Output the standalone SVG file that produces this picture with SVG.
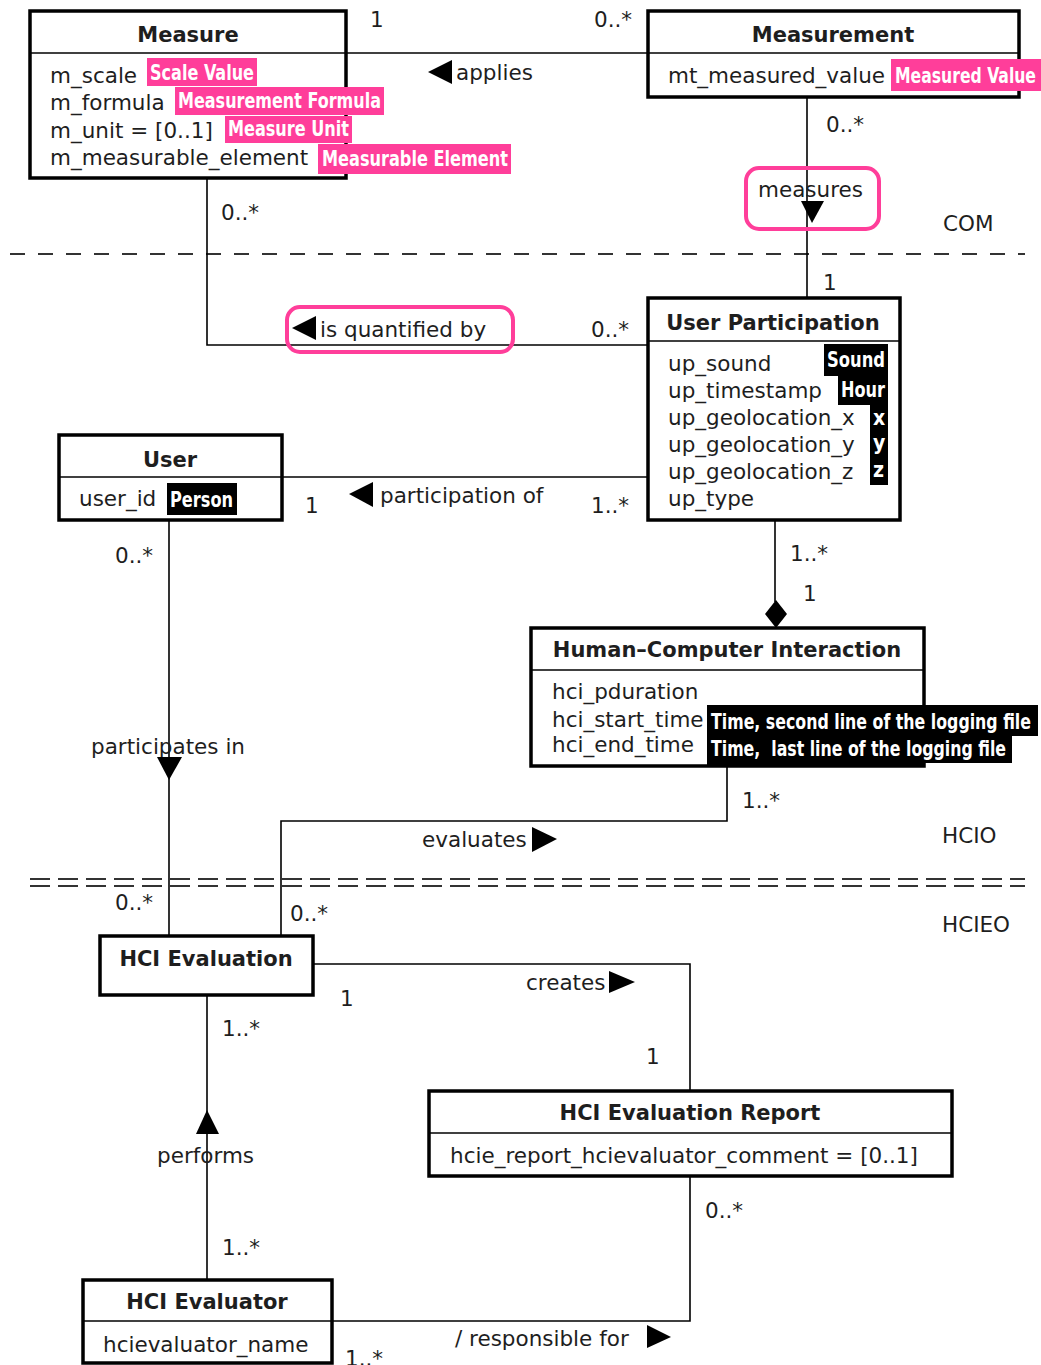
<svg xmlns="http://www.w3.org/2000/svg" width="1041" height="1365" viewBox="0 0 1041 1365">
<style>
.box{fill:#fff;stroke:#000;stroke-width:3.5}
.dv{stroke:#000;stroke-width:1.5}
.t{font-family:"DejaVu Sans",sans-serif;font-size:21.5px;fill:#1e1e1e}
.b{font-weight:bold;font-size:21px;text-anchor:middle}
.conn{fill:none;stroke:#000;stroke-width:1.6}
.tri{fill:#000}
.pk{fill:#ff3e9a}
.bk{fill:#000}
.lab{font-family:"Liberation Sans Narrow","DejaVu Sans Condensed","Roboto",sans-serif;font-weight:bold;font-size:21px;fill:#fff;white-space:pre}
.hl{fill:none;stroke:#ff3e9a;stroke-width:4}
.sep{fill:none;stroke:#333;stroke-width:1.8}
</style>
<rect width="1041" height="1365" fill="#fff"/>

<g id="separators">
<path class="sep" d="M10,254 H1025" stroke-dasharray="15 13"/>
<path class="sep" d="M30,879 H1025 M30,886 H1025" stroke-dasharray="20 8"/>
<text class="t" x="943" y="231">COM</text>
<text class="t" x="942" y="843">HCIO</text>
<text class="t" x="942" y="932">HCIEO</text>
</g>

<g id="connectors">
<path class="conn" d="M346,53 H648"/>
<path class="tri" d="M428,72 L452,60 L452,84 Z"/>
<text class="t" x="456" y="80">applies</text>
<text class="t" x="370" y="27">1</text>
<text class="t" x="594" y="27">0..*</text>

<path class="conn" d="M807,97 V298"/>
<text class="t" x="826" y="132">0..*</text>
<text class="t" x="823" y="290">1</text>
<rect class="hl" x="746" y="168" width="133" height="61" rx="13"/>
<text class="t" x="758" y="197">measures</text>
<path class="tri" d="M801,201 L824,201 L812,223 Z"/>

<path class="conn" d="M207,178 V345 H648"/>
<text class="t" x="221" y="220">0..*</text>
<text class="t" x="591" y="337">0..*</text>
<rect class="hl" x="287" y="307" width="226" height="45" rx="13"/>
<path class="tri" d="M292,328 L316,316 L316,340 Z"/>
<text class="t" x="320" y="337">is quantified by</text>

<path class="conn" d="M282,477 H648"/>
<text class="t" x="305" y="513">1</text>
<path class="tri" d="M349,494 L373,482 L373,507 Z"/>
<text class="t" x="380" y="503">participation of</text>
<text class="t" x="591" y="513">1..*</text>

<path class="conn" d="M169,520 V936"/>
<text class="t" x="115" y="563">0..*</text>
<text class="t" x="91" y="754">participates in</text>
<path class="tri" d="M157,757 L182,757 L169,780 Z"/>
<text class="t" x="115" y="910">0..*</text>

<path class="conn" d="M775,520 V602"/>
<path class="tri" d="M776,600 L787,614 L776,628 L765,614 Z"/>
<text class="t" x="790" y="561">1..*</text>
<text class="t" x="803" y="601">1</text>

<path class="conn" d="M727,766 V821 H281 V936"/>
<text class="t" x="742" y="808">1..*</text>
<text class="t" x="422" y="847">evaluates</text>
<path class="tri" d="M532,827 L557,839 L532,852 Z"/>
<text class="t" x="290" y="921">0..*</text>

<path class="conn" d="M313,964 H690 V1091"/>
<text class="t" x="526" y="990">creates</text>
<path class="tri" d="M609,971 L635,982 L609,993 Z"/>
<text class="t" x="340" y="1006">1</text>
<text class="t" x="646" y="1064">1</text>

<path class="conn" d="M207,995 V1280"/>
<text class="t" x="222" y="1036">1..*</text>
<path class="tri" d="M207,1110 L219,1134 L196,1134 Z"/>
<text class="t" x="157" y="1163">performs</text>
<text class="t" x="222" y="1255">1..*</text>

<path class="conn" d="M332,1321 H690 V1176"/>
<text class="t" x="705" y="1218">0..*</text>
<text class="t" x="455" y="1346">/ responsible for</text>
<path class="tri" d="M647,1325 L671,1337 L647,1348 Z"/>
<text class="t" x="345" y="1366">1..*</text>
</g>

<g id="measure">
<rect class="box" x="30" y="11" width="316" height="167"/>
<path class="dv" d="M30,53 H346"/>
<text class="t b" x="188" y="42">Measure</text>
<text class="t" x="50" y="83">m_scale</text>
<text class="t" x="50" y="110">m_formula</text>
<text class="t" x="50" y="138">m_unit = [0..1]</text>
<text class="t" x="50" y="165">m_measurable_element</text>
<rect class="pk" x="147" y="58" width="110" height="28"/>
<text class="lab" x="150" y="80" textLength="104" lengthAdjust="spacingAndGlyphs">Scale Value</text>
<rect class="pk" x="175" y="87" width="209" height="28"/>
<text class="lab" x="178" y="108" textLength="203" lengthAdjust="spacingAndGlyphs">Measurement Formula</text>
<rect class="pk" x="225" y="116" width="127" height="27"/>
<text class="lab" x="228" y="136" textLength="121" lengthAdjust="spacingAndGlyphs">Measure Unit</text>
<rect class="pk" x="318" y="144" width="193" height="30"/>
<text class="lab" x="322" y="166" textLength="186" lengthAdjust="spacingAndGlyphs">Measurable Element</text>
</g>

<g id="measurement">
<rect class="box" x="648" y="11" width="371" height="86"/>
<path class="dv" d="M648,53 H1019"/>
<text class="t b" x="833" y="42">Measurement</text>
<text class="t" x="668" y="83">mt_measured_value</text>
<rect class="pk" x="891" y="59" width="150" height="32"/>
<text class="lab" x="895" y="83" textLength="141" lengthAdjust="spacingAndGlyphs">Measured Value</text>
</g>

<g id="user-participation">
<rect class="box" x="648" y="298" width="252" height="222"/>
<path class="dv" d="M648,341 H900"/>
<text class="t b" x="773" y="330">User Participation</text>
<text class="t" x="668" y="371">up_sound</text>
<text class="t" x="668" y="398">up_timestamp</text>
<text class="t" x="668" y="425">up_geolocation_x</text>
<text class="t" x="668" y="452">up_geolocation_y</text>
<text class="t" x="668" y="479">up_geolocation_z</text>
<text class="t" x="668" y="506">up_type</text>
<rect class="bk" x="824" y="344" width="64" height="32"/>
<text class="lab" x="827" y="367" textLength="58" lengthAdjust="spacingAndGlyphs">Sound</text>
<rect class="bk" x="838" y="376" width="50" height="29"/>
<text class="lab" x="841" y="397" textLength="44" lengthAdjust="spacingAndGlyphs">Hour</text>
<rect class="bk" x="870" y="405" width="18" height="80"/>
<text class="lab" x="873" y="425">x</text>
<text class="lab" x="873" y="450">y</text>
<text class="lab" x="873" y="477">z</text>
</g>

<g id="user">
<rect class="box" x="59" y="435" width="223" height="85"/>
<path class="dv" d="M59,477 H282"/>
<text class="t b" x="170" y="467">User</text>
<text class="t" x="79" y="506">user_id</text>
<rect class="bk" x="167" y="483" width="70" height="32"/>
<text class="lab" x="170" y="507" textLength="63" lengthAdjust="spacingAndGlyphs">Person</text>
</g>

<g id="hci">
<rect class="box" x="531" y="628" width="393" height="138"/>
<path class="dv" d="M531,670 H924"/>
<text class="t b" x="727" y="657">Human–Computer Interaction</text>
<text class="t" x="552" y="699">hci_pduration</text>
<text class="t" x="552" y="727">hci_start_time</text>
<text class="t" x="552" y="752">hci_end_time</text>
<path class="bk" d="M707,705 H1038 V736 H1012 V763 H924 V767 H707 Z"/>
<text class="lab" x="711" y="729" textLength="320" lengthAdjust="spacingAndGlyphs">Time, second line of the logging file</text>
<text class="lab" x="711" y="756" textLength="295" lengthAdjust="spacingAndGlyphs" xml:space="preserve">Time,  last line of the logging file</text>
</g>

<g id="hci-evaluation">
<rect class="box" x="100" y="936" width="213" height="59"/>
<text class="t b" x="206" y="966">HCI Evaluation</text>
</g>

<g id="hci-evaluation-report">
<rect class="box" x="429" y="1091" width="523" height="85"/>
<path class="dv" d="M429,1133 H952"/>
<text class="t b" x="690" y="1120">HCI Evaluation Report</text>
<text class="t" x="450" y="1163">hcie_report_hcievaluator_comment = [0..1]</text>
</g>

<g id="hci-evaluator">
<rect class="box" x="83" y="1280" width="249" height="83"/>
<path class="dv" d="M83,1321 H332"/>
<text class="t b" x="207" y="1309">HCI Evaluator</text>
<text class="t" x="103" y="1352">hcievaluator_name</text>
</g>
</svg>
